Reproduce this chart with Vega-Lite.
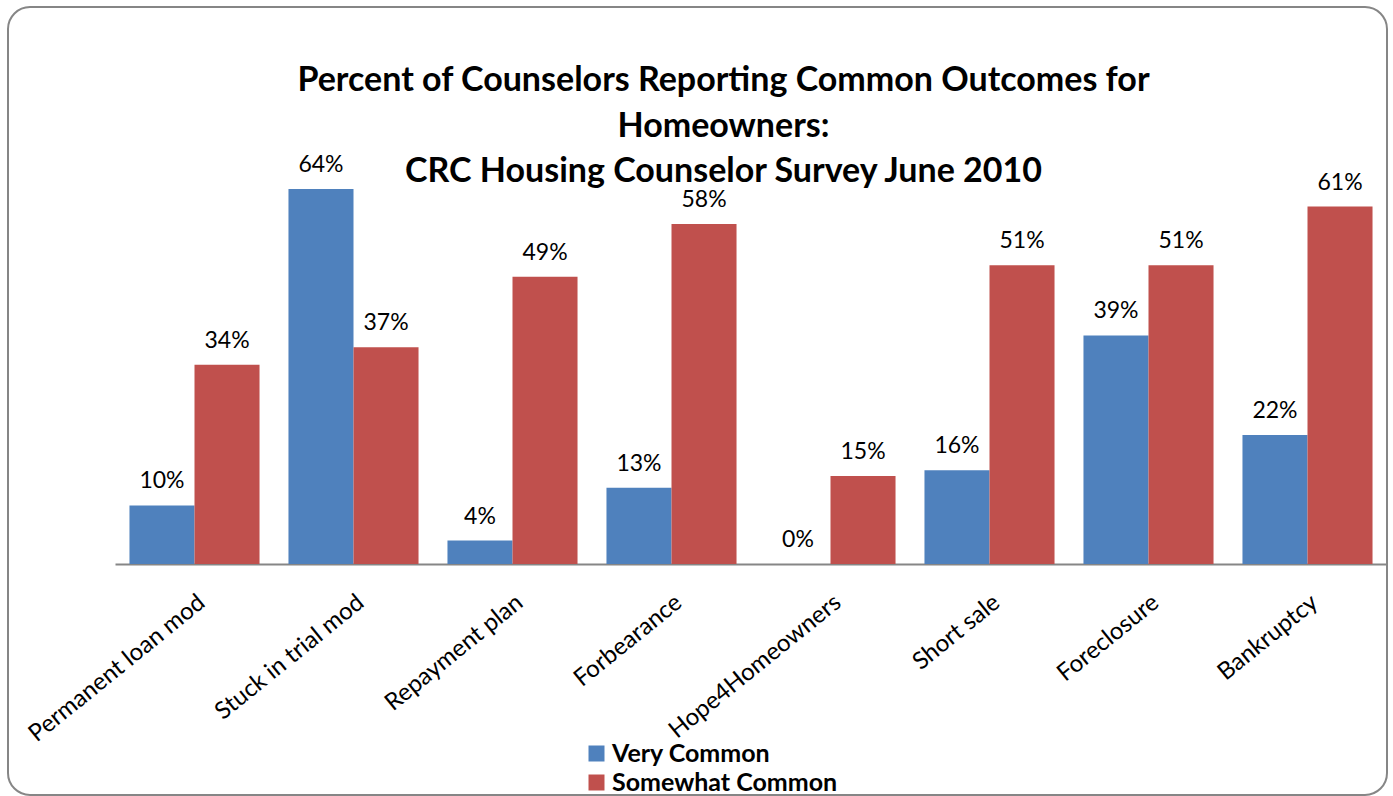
{
  "$schema": "https://vega.github.io/schema/vega-lite/v6.json",
  "autosize": {"type": "none"},
  "padding": {"left": 8, "top": 7, "right": 6, "bottom": 1},
  "width": 1379,
  "height": 788,
  "background": "white",
  "title": {
    "text": ["Percent of Counselors Reporting Common Outcomes for", "Homeowners:", "CRC Housing Counselor Survey June 2010"],
    "font": "Lato",
    "fontSize": 34,
    "fontWeight": "bold",
    "color": "black",
    "lineHeight": 45.5,
    "anchor": "middle",
    "frame": "group",
    "offset": 0,
    "dx": 26,
    "dy": 182
  },
  "data": {
    "values": [
      {"outcome": "Permanent loan mod", "series": "Very Common", "value": 0.10},
      {"outcome": "Permanent loan mod", "series": "Somewhat Common", "value": 0.34},
      {"outcome": "Stuck in trial mod", "series": "Very Common", "value": 0.64},
      {"outcome": "Stuck in trial mod", "series": "Somewhat Common", "value": 0.37},
      {"outcome": "Repayment plan", "series": "Very Common", "value": 0.04},
      {"outcome": "Repayment plan", "series": "Somewhat Common", "value": 0.49},
      {"outcome": "Forbearance", "series": "Very Common", "value": 0.13},
      {"outcome": "Forbearance", "series": "Somewhat Common", "value": 0.58},
      {"outcome": "Hope4Homeowners", "series": "Very Common", "value": 0.0},
      {"outcome": "Hope4Homeowners", "series": "Somewhat Common", "value": 0.15},
      {"outcome": "Short sale", "series": "Very Common", "value": 0.16},
      {"outcome": "Short sale", "series": "Somewhat Common", "value": 0.51},
      {"outcome": "Foreclosure", "series": "Very Common", "value": 0.39},
      {"outcome": "Foreclosure", "series": "Somewhat Common", "value": 0.51},
      {"outcome": "Bankruptcy", "series": "Very Common", "value": 0.22},
      {"outcome": "Bankruptcy", "series": "Somewhat Common", "value": 0.61}
    ]
  },
  "encoding": {
    "x": {
      "field": "outcome",
      "type": "nominal",
      "sort": null,
      "scale": {"range": [107, 1379], "paddingInner": 0.182, "paddingOuter": 0.091},
      "axis": {
        "orient": "bottom",
        "offset": -231,
        "title": null,
        "ticks": false,
        "domainColor": "#868686",
        "domainWidth": 2,
        "labelAngle": -39,
        "labelAlign": "right",
        "labelBaseline": "top",
        "labelFont": "Lato",
        "labelFontSize": 24,
        "labelColor": "black",
        "labelPadding": 26,
        "labelLimit": 0,
        "labelOverlap": false,
        "labelBound": false,
        "grid": false
      }
    },
    "xOffset": {
      "field": "series",
      "type": "nominal",
      "sort": ["Very Common", "Somewhat Common"],
      "scale": {"paddingInner": 0, "paddingOuter": 0}
    },
    "y": {
      "field": "value",
      "type": "quantitative",
      "scale": {"domain": [-0.3942, 0.9505], "nice": false, "zero": false},
      "axis": null
    }
  },
  "layer": [
    {
      "mark": {"type": "bar", "stroke": null},
      "encoding": {
        "y2": {"datum": 0},
        "color": {
          "field": "series",
          "type": "nominal",
          "sort": ["Very Common", "Somewhat Common"],
          "scale": {"domain": ["Very Common", "Somewhat Common"], "range": ["#4F81BD", "#C0504D"]},
          "legend": {
            "title": null,
            "orient": "none",
            "legendX": 576,
            "legendY": 734,
            "direction": "vertical",
            "symbolType": "square",
            "symbolSize": 256,
            "symbolStrokeWidth": 0,
            "symbolOpacity": 1,
            "labelFont": "Lato",
            "labelFontSize": 25,
            "labelFontWeight": "bold",
            "labelColor": "black",
            "labelOffset": 3,
            "labelLimit": 0,
            "rowPadding": 3,
            "padding": 0
          }
        }
      }
    },
    {
      "mark": {"type": "text", "font": "Lato", "fontSize": 23, "color": "black", "baseline": "alphabetic", "align": "center", "dy": -17},
      "encoding": {
        "text": {"field": "value", "type": "quantitative", "format": ".0%"}
      }
    }
  ],
  "config": {
    "view": {"stroke": "#868686", "strokeWidth": 2, "cornerRadius": 22}
  }
}
